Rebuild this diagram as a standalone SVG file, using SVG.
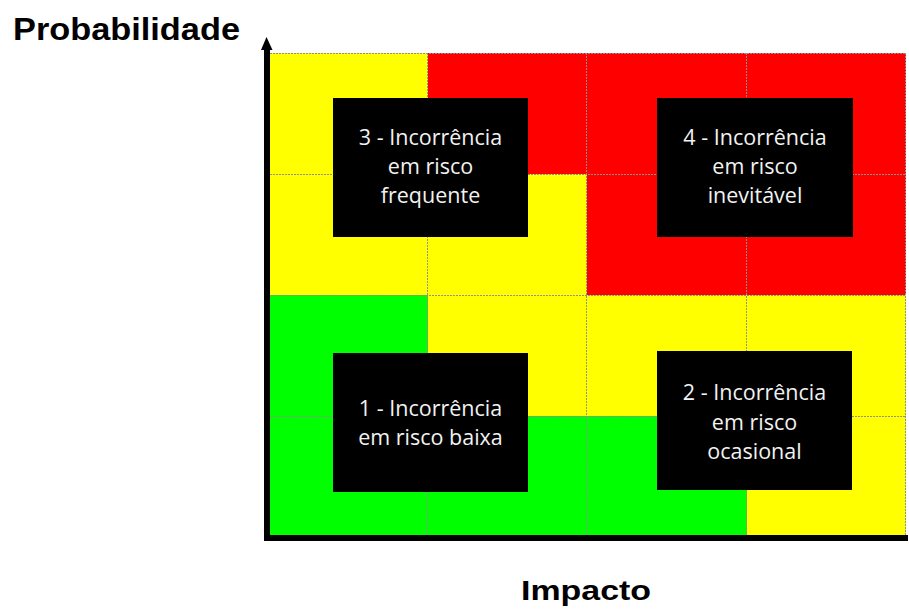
<svg xmlns="http://www.w3.org/2000/svg" width="909" height="611" viewBox="0 0 909 611">
<style>
.y{fill:#ffff00}.r{fill:#ff0000}.g{fill:#00ff00}
.grid{stroke:#909090;stroke-width:1;stroke-dasharray:2 1;fill:none}
.box{fill:#000000}
.lbl{font-family:"Open Sans","Noto Sans",sans-serif;font-size:21.5px;fill:#f2f2f2;text-anchor:middle}
.ttl{font-family:"Liberation Sans",Arial,sans-serif;font-weight:bold;fill:#000000}
</style>
<rect width="909" height="611" fill="#ffffff"/>
<g id="cells">
<rect class="y" x="270" y="53" width="158" height="121"/>
<rect class="r" x="428" y="53" width="159" height="121"/>
<rect class="r" x="587" y="53" width="160" height="121"/>
<rect class="r" x="747" y="53" width="159" height="121"/>
<rect class="y" x="270" y="174" width="158" height="121"/>
<rect class="y" x="428" y="174" width="159" height="121"/>
<rect class="r" x="587" y="174" width="160" height="121"/>
<rect class="r" x="747" y="174" width="159" height="121"/>
<rect class="g" x="270" y="295" width="158" height="121"/>
<rect class="y" x="428" y="295" width="159" height="121"/>
<rect class="y" x="587" y="295" width="160" height="121"/>
<rect class="y" x="747" y="295" width="159" height="121"/>
<rect class="g" x="270" y="416" width="158" height="119"/>
<rect class="g" x="428" y="416" width="159" height="119"/>
<rect class="g" x="587" y="416" width="160" height="119"/>
<rect class="y" x="747" y="416" width="159" height="119"/>
</g>
<g id="gridlines" class="grid">
<path d="M270 53.5H906M270 174.5H906M270 295.5H906M270 416.5H906M427.5 53V535M586.5 53V535M746.5 53V535M905.5 53V535"/>
</g>
<g id="axes">
<rect x="264" y="49" width="6" height="492" fill="#000"/>
<polygon points="266.5,37 261,50 272.5,50" fill="#000"/>
<rect x="264" y="535" width="644" height="6" fill="#000"/>
</g>
<g id="node3">
<rect class="box" x="333" y="98" width="195" height="139"/>
<text class="lbl" x="430.5" y="145">3 - Incorrência</text>
<text class="lbl" x="430.5" y="174">em risco</text>
<text class="lbl" x="430.5" y="203">frequente</text>
</g>
<g id="node4">
<rect class="box" x="657" y="98" width="196" height="139"/>
<text class="lbl" x="755" y="145">4 - Incorrência</text>
<text class="lbl" x="755" y="174">em risco</text>
<text class="lbl" x="755" y="203">inevitável</text>
</g>
<g id="node1">
<rect class="box" x="333" y="353" width="195" height="139"/>
<text class="lbl" x="430.5" y="416">1 - Incorrência</text>
<text class="lbl" x="430.5" y="445">em risco baixa</text>
</g>
<g id="node2">
<rect class="box" x="657" y="351" width="195" height="139"/>
<text class="lbl" x="754.5" y="400">2 - Incorrência</text>
<text class="lbl" x="754.5" y="430">em risco</text>
<text class="lbl" x="754.5" y="459">ocasional</text>
</g>
<text class="ttl" x="13" y="40" font-size="31" textLength="227" lengthAdjust="spacingAndGlyphs">Probabilidade</text>
<text class="ttl" x="521" y="600" font-size="28" textLength="130" lengthAdjust="spacingAndGlyphs">Impacto</text>
</svg>
